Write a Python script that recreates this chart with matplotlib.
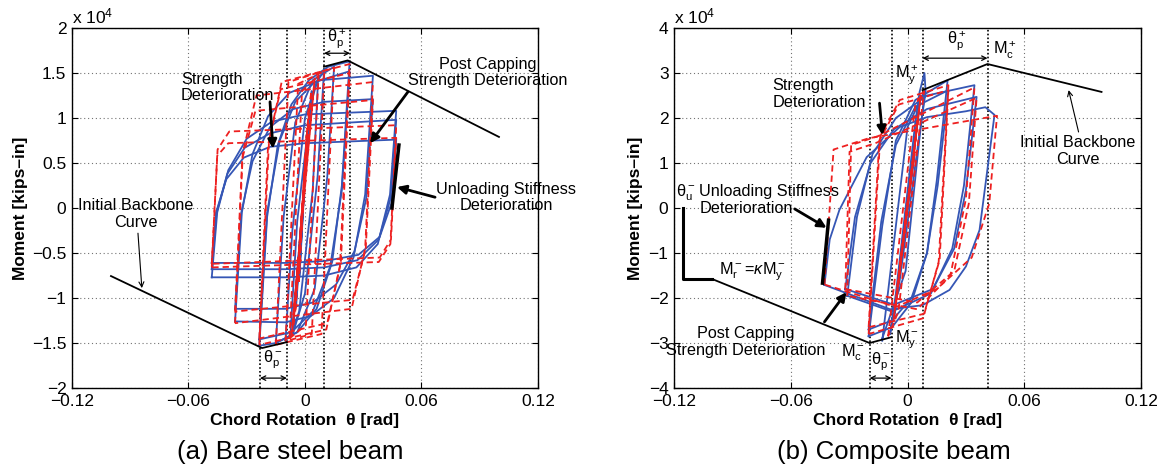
import matplotlib.pyplot as plt

# ---------------- data (rotation in rad, moment in 1e4 kip-in) ----------------
XTICKS = [-0.12, -0.06, 0.0, 0.06, 0.12]
STEEL_YTICKS = [-2, -1.5, -1, -0.5, 0, 0.5, 1, 1.5, 2]
COMP_YTICKS = [-4, -3, -2, -1, 0, 1, 2, 3, 4]

# (a) bare steel beam - measured cycles (blue)
steel_test_theta = [
    [-0.0030, 0.0010, -0.0028],
    [-0.0048, 0.0022, -0.0045],
    [-0.0062, 0.0035, -0.0060],
    [-0.0075, -0.0040, 0.0030, 0.0068, 0.0040, -0.0030, -0.0075],
    [-0.0100, -0.0065, 0.0000, 0.0060, 0.0098, 0.0065, 0.0000, -0.0060, -0.0100],
    [-0.0150, -0.0110, -0.0050, 0.0040, 0.0150, 0.0115, 0.0050, -0.0040, -0.0150],
    [-0.0235, -0.0195, -0.0140, -0.0070, 0.0020, 0.0120, 0.0230, 0.0190, 0.0140, 0.0060, -0.0040, -0.0150, -0.0235],
    [-0.0235, -0.0195, -0.0130, -0.0050, 0.0050, 0.0230, 0.0190, 0.0130, 0.0040, -0.0070, -0.0235],
    [-0.0360, -0.0325, -0.0270, -0.0190, -0.0080, 0.0080, 0.0350, 0.0310, 0.0250, 0.0150, 0.0030, -0.0100, -0.0360],
    [-0.0360, -0.0328, -0.0270, -0.0180, -0.0060, 0.0100, 0.0350, 0.0315, 0.0255, 0.0160, 0.0040, -0.0100, -0.0360],
    [-0.0480, -0.0452, -0.0395, -0.0300, -0.0170, 0.0000, 0.0470, 0.0438, 0.0375, 0.0265, 0.0100, -0.0100, -0.0480],
    [-0.0480, -0.0455, -0.0400, -0.0310, -0.0180, 0.0000, 0.0470, 0.0440, 0.0380, 0.0270, 0.0100, -0.0100, -0.0480],
    [-0.0480, -0.0458, -0.0405, -0.0315, -0.0180, 0.0000, 0.0470, 0.0445, 0.0385, 0.0275, 0.0100, -0.0100, -0.0480],
]
steel_test_moment = [
    [-0.78, 0.76, -0.76],
    [-1.10, 1.08, -1.08],
    [-1.30, 1.30, -1.28],
    [-1.42, -0.15, 1.15, 1.45, 0.20, -1.15, -1.42],
    [-1.47, -0.25, 1.00, 1.40, 1.52, 0.35, -0.95, -1.38, -1.47],
    [-1.50, -0.10, 0.95, 1.42, 1.57, 0.35, -0.90, -1.38, -1.50],
    [-1.53, -0.10, 0.70, 1.15, 1.42, 1.57, 1.63, 0.25, -0.60, -1.12, -1.38, -1.50, -1.53],
    [-1.46, -0.05, 0.75, 1.18, 1.40, 1.52, 0.20, -0.65, -1.15, -1.38, -1.46],
    [-1.26, -0.05, 0.60, 1.02, 1.28, 1.42, 1.47, 0.15, -0.55, -1.00, -1.20, -1.27, -1.26],
    [-1.12, -0.05, 0.52, 0.90, 1.10, 1.18, 1.21, 0.10, -0.48, -0.85, -1.05, -1.12, -1.12],
    [-0.77, -0.05, 0.42, 0.77, 0.96, 1.04, 1.08, 0.15, -0.40, -0.66, -0.75, -0.77, -0.77],
    [-0.68, -0.05, 0.38, 0.67, 0.83, 0.92, 0.98, 0.10, -0.35, -0.58, -0.66, -0.68, -0.68],
    [-0.61, -0.05, 0.32, 0.56, 0.68, 0.72, 0.76, 0.05, -0.32, -0.52, -0.59, -0.61, -0.61],
]

# (a) bare steel beam - model cycles (red dashed)
steel_model_theta = [
    [-0.0032, 0.0008, -0.0032],
    [-0.0050, 0.0020, -0.0050],
    [-0.0060, 0.0032, -0.0060],
    [-0.0070, 0.0050, -0.0068],
    [-0.0080, -0.0015, 0.0070, 0.0005, -0.0080],
    [-0.0100, -0.0035, 0.0100, 0.0035, -0.0100],
    [-0.0150, -0.0085, 0.0150, 0.0085, -0.0150],
    [-0.0235, -0.0185, -0.0120, 0.0230, 0.0180, 0.0110, -0.0235],
    [-0.0235, -0.0190, -0.0125, 0.0230, 0.0185, 0.0115, -0.0235],
    [-0.0360, -0.0320, -0.0250, 0.0350, 0.0310, 0.0240, -0.0360],
    [-0.0360, -0.0323, -0.0255, 0.0350, 0.0313, 0.0245, -0.0360],
    [-0.0480, -0.0450, -0.0390, 0.0470, 0.0440, 0.0380, -0.0480],
    [-0.0480, -0.0452, -0.0395, 0.0470, 0.0443, 0.0385, -0.0480],
]
steel_model_moment = [
    [-0.82, 0.80, -0.82],
    [-1.15, 1.12, -1.15],
    [-1.30, 1.30, -1.30],
    [-1.42, 1.44, -1.42],
    [-1.45, 1.30, 1.47, -1.30, -1.45],
    [-1.48, 1.38, 1.52, -1.40, -1.48],
    [-1.52, 1.40, 1.56, -1.40, -1.52],
    [-1.52, 0.75, 1.40, 1.60, -0.65, -1.35, -1.52],
    [-1.45, 0.70, 1.32, 1.50, -0.60, -1.28, -1.45],
    [-1.28, 0.62, 1.25, 1.40, -0.45, -1.12, -1.28],
    [-1.15, 0.55, 1.08, 1.20, -0.45, -1.02, -1.15],
    [-0.66, 0.65, 0.85, 0.92, -0.40, -0.60, -0.66],
    [-0.62, 0.58, 0.72, 0.78, -0.35, -0.55, -0.62],
]

steel_bb_pos_theta = [0.0098, 0.0220, 0.0999]
steel_bb_pos_m = [1.57, 1.64, 0.79]
steel_bb_neg_theta = [-0.0999, -0.0221, -0.0093]
steel_bb_neg_m = [-0.756, -1.556, -1.49]
steel_marks = [-0.0232, -0.0093, 0.0098, 0.0232]
steel_unload_theta = [0.0484, 0.0448]
steel_unload_m = [0.70, 0.0]

# (b) composite beam - measured cycles (blue)
comp_test_theta = [
    [-0.0030, 0.0035, -0.0030],
    [-0.0050, 0.0050, -0.0050],
    [-0.0070, 0.0065, -0.0070],
    [-0.0090, -0.0060, 0.0040, 0.0062, 0.0087, 0.0093, 0.0060, -0.0040, -0.0090],
    [-0.0130, -0.0060, 0.0000, 0.0090, 0.0060, -0.0010, -0.0130],
    [-0.0200, -0.0130, -0.0060, 0.0040, 0.0206, 0.0150, 0.0100, 0.0020, -0.0080, -0.0200],
    [-0.0200, -0.0135, -0.0060, 0.0040, 0.0210, 0.0155, 0.0100, 0.0020, -0.0080, -0.0200],
    [-0.0310, -0.0260, -0.0180, -0.0060, 0.0100, 0.0344, 0.0290, 0.0230, 0.0120, -0.0080, -0.0310],
    [-0.0320, -0.0270, -0.0190, -0.0070, 0.0100, 0.0355, 0.0300, 0.0240, 0.0130, -0.0070, -0.0320],
    [-0.0427, -0.0400, -0.0350, -0.0210, -0.0040, 0.0100, 0.0300, 0.0400, 0.0447, 0.0370, 0.0300, 0.0216, 0.0077, -0.0090, -0.0427],
]
comp_test_moment = [
    [-1.00, 1.20, -1.00],
    [-1.70, 1.90, -1.70],
    [-2.45, 2.45, -2.45],
    [-2.80, -1.90, 1.90, 2.58, 3.00, 2.58, 1.60, -1.60, -2.80],
    [-2.95, -0.40, 1.80, 2.62, 1.50, -1.40, -2.90],
    [-2.85, -0.40, 1.50, 2.40, 2.84, 0.60, -1.00, -2.10, -2.65, -2.85],
    [-2.70, -0.30, 1.40, 2.25, 2.62, 0.50, -1.00, -2.00, -2.50, -2.70],
    [-1.95, -0.20, 1.20, 2.00, 2.50, 2.73, 0.50, -0.90, -1.90, -2.30, -1.95],
    [-1.80, -0.20, 1.00, 1.75, 2.20, 2.47, 0.40, -0.90, -1.80, -2.15, -1.80],
    [-1.71, -0.70, -0.04, 1.13, 1.80, 2.02, 2.15, 2.24, 2.07, -0.49, -1.30, -1.82, -2.16, -2.25, -1.71],
]

# (b) composite beam - model cycles (red dashed)
comp_model_theta = [
    [-0.0032, 0.0037, -0.0032],
    [-0.0052, 0.0052, -0.0052],
    [-0.0060, 0.0060, -0.0060],
    [-0.0072, 0.0068, -0.0072],
    [-0.0100, 0.0040, 0.0085, -0.0047, -0.0100],
    [-0.0200, -0.0140, -0.0040, 0.0210, 0.0160, 0.0080, -0.0200],
    [-0.0200, -0.0145, -0.0045, 0.0210, 0.0165, 0.0085, -0.0200],
    [-0.0310, -0.0290, -0.0150, 0.0344, 0.0300, 0.0220, 0.0050, -0.0310],
    [-0.0320, -0.0298, -0.0160, 0.0355, 0.0315, 0.0240, 0.0050, -0.0320],
    [-0.0427, -0.0380, -0.0200, 0.0460, 0.0420, 0.0330, 0.0150, -0.0060, -0.0427],
]
comp_model_moment = [
    [-1.05, 1.25, -1.05],
    [-1.75, 1.95, -1.75],
    [-2.15, 2.20, -2.15],
    [-2.50, 2.50, -2.50],
    [-2.85, 2.30, 2.60, -2.30, -2.85],
    [-2.80, 1.60, 2.40, 2.73, -1.20, -2.45, -2.80],
    [-2.65, 1.50, 2.30, 2.62, -1.15, -2.35, -2.65],
    [-1.95, 1.40, 1.60, 2.68, 0.20, -1.50, -2.25, -1.95],
    [-1.80, 1.25, 1.45, 2.45, 0.10, -1.40, -2.10, -1.80],
    [-1.70, 1.30, 1.55, 2.05, 0.10, -1.10, -1.80, -2.20, -1.70],
]

comp_bb_pos_theta = [0.0077, 0.0411, 0.0997]
comp_bb_pos_m = [2.62, 3.20, 2.58]
comp_bb_neg_theta = [-0.1003, -0.0195, -0.0082]
comp_bb_neg_m = [-1.58, -3.00, -2.87]
comp_resid_theta = [-0.1152, -0.1152, -0.1003]
comp_resid_m = [0.0, -1.58, -1.58]
comp_marks = [-0.0195, -0.0082, 0.0077, 0.0411]
comp_unload_theta = [-0.0406, -0.0437]
comp_unload_m = [-0.27, -1.67]

# ---------------- styling ----------------
plt.rcParams['font.family'] = ['Liberation Sans', 'DejaVu Sans']
plt.rcParams['mathtext.fontset'] = 'custom'
plt.rcParams['mathtext.rm'] = 'Liberation Sans'
plt.rcParams['mathtext.it'] = 'Liberation Sans:italic'

BLUE = '#3556b5'
RED = '#ee2020'
FS = 11.7       # annotations
TICK_FS = 12.5
LABEL_FS = 12.5


def fmt(v):
    return '{:g}'.format(v).replace('-', '\u2212')


def setup(ax, yticks, marks, ylabel_x):
    ax.set_xlim(XTICKS[0], XTICKS[-1])
    ax.set_ylim(yticks[0], yticks[-1])
    ax.set_xticks(XTICKS)
    ax.set_xticklabels([fmt(v) for v in XTICKS])
    ax.set_yticks(yticks)
    ax.set_yticklabels([fmt(v) for v in yticks])
    ax.grid(True, linestyle=(0, (1, 2.5)), color='0.45', linewidth=0.8)
    ax.set_axisbelow(True)
    ax.tick_params(direction='in', top=True, right=True, length=4, width=0.8,
                   labelsize=TICK_FS, pad=4)
    for th in marks:
        ax.axvline(th, color='k', linestyle=(0, (1, 1.3)), linewidth=1.2, zorder=1.5)
    ax.set_xlabel('Chord Rotation  \u03b8 [rad]', fontsize=LABEL_FS, fontweight='bold')
    ax.xaxis.set_label_coords(0.5, -0.07)
    ax.set_ylabel('Moment [kips\u2013in]', fontsize=LABEL_FS, fontweight='bold')
    ax.yaxis.set_label_coords(ylabel_x, 0.5)
    ax.text(0.0, 1.004, r'x 10$^4$', transform=ax.transAxes, fontsize=TICK_FS,
            ha='left', va='bottom')
    for s in ax.spines.values():
        s.set_linewidth(1.0)


def draw_cycles(ax, tt, tm, mt, mm):
    for th, m in zip(tt, tm):
        ax.plot(th, m, color=BLUE, linewidth=1.3, zorder=2)
    for th, m in zip(mt, mm):
        ax.plot(th, m, color=RED, linewidth=1.3, dashes=(3.5, 2.2), zorder=2.1)


def arrow(ax, start, end, thick=True):
    if thick:
        props = dict(arrowstyle='-|>', color='k', lw=2.0, mutation_scale=13,
                     shrinkA=0, shrinkB=0)
    else:
        props = dict(arrowstyle='->', color='k', lw=0.8, mutation_scale=9,
                     shrinkA=0, shrinkB=0)
    ax.annotate('', xy=end, xytext=start, arrowprops=props, zorder=5)


def span(ax, t0, t1, m):
    ax.annotate('', xy=(t1, m), xytext=(t0, m), zorder=5,
                arrowprops=dict(arrowstyle='<->', color='k', lw=0.9,
                                mutation_scale=8, shrinkA=0, shrinkB=0))


fig = plt.figure(figsize=(11.68, 4.71), dpi=100)
ax1 = fig.add_axes([0.0616, 0.1762, 0.3990, 0.7643])
ax2 = fig.add_axes([0.5771, 0.1762, 0.3998, 0.7643])

# ---- (a) bare steel beam ----
setup(ax1, STEEL_YTICKS, steel_marks, -0.094)
draw_cycles(ax1, steel_test_theta, steel_test_moment, steel_model_theta, steel_model_moment)
ax1.plot(steel_bb_pos_theta, steel_bb_pos_m, color='k', lw=1.3, zorder=4)
ax1.plot(steel_bb_neg_theta, steel_bb_neg_m, color='k', lw=1.3, zorder=4)
ax1.plot(steel_unload_theta, steel_unload_m, color='k', lw=2.5, zorder=4)

ax1.text(-0.0639, 1.34, 'Strength\nDeterioration', fontsize=FS, ha='left', va='center',
         linespacing=1.15)
arrow(ax1, (-0.0180, 1.18), (-0.0165, 0.66))
ax1.text(0.0942, 1.505, 'Post Capping\nStrength Deterioration', fontsize=FS,
         ha='center', va='center', linespacing=1.15)
arrow(ax1, (0.0530, 1.29), (0.0335, 0.72))
ax1.text(0.1035, 0.117, 'Unloading Stiffness\nDeterioration', fontsize=FS,
         ha='center', va='center', linespacing=1.15)
arrow(ax1, (0.0670, 0.12), (0.0474, 0.233))
ax1.text(-0.0870, -0.067, 'Initial Backbone\nCurve', fontsize=FS, ha='center',
         va='center', linespacing=1.15)
arrow(ax1, (-0.0860, -0.28), (-0.0840, -0.89), thick=False)
ax1.text(0.0165, 1.88, r'$\mathrm{\theta}^+_\mathrm{p}$', fontsize=FS, ha='center', va='center')
span(ax1, steel_marks[2], steel_marks[3], 1.72)
ax1.text(-0.0165, -1.69, r'$\mathrm{\theta}^-_\mathrm{p}$', fontsize=FS, ha='center', va='center')
span(ax1, steel_marks[0], steel_marks[1], -1.89)

# ---- (b) composite beam ----
setup(ax2, COMP_YTICKS, comp_marks, -0.066)
draw_cycles(ax2, comp_test_theta, comp_test_moment, comp_model_theta, comp_model_moment)
ax2.plot(comp_bb_pos_theta, comp_bb_pos_m, color='k', lw=1.3, zorder=4)
ax2.plot(comp_bb_neg_theta, comp_bb_neg_m, color='k', lw=1.3, zorder=4)
ax2.plot(comp_resid_theta, comp_resid_m, color='k', lw=2.2, zorder=4)
ax2.plot(comp_unload_theta, comp_unload_m, color='k', lw=2.5, zorder=4)

ax2.text(-0.1190, 0.33, r'$\mathrm{\theta}^-_\mathrm{u}$', fontsize=FS, ha='left', va='center')
ax2.text(-0.1070, 0.18, 'Unloading Stiffness\nDeterioration', fontsize=FS, ha='left',
         va='center', linespacing=1.15)
arrow(ax2, (-0.0580, -0.02), (-0.0416, -0.44))
ax2.text(-0.0694, 2.53, 'Strength\nDeterioration', fontsize=FS, ha='left', va='center',
         linespacing=1.15)
arrow(ax2, (-0.0144, 2.33), (-0.0129, 1.62))
ax2.text(-0.0005, 2.96, r'$\mathrm{M}^+_\mathrm{y}$', fontsize=FS, ha='center', va='center')
ax2.text(0.0499, 3.51, r'$\mathrm{M}^+_\mathrm{c}$', fontsize=FS, ha='center', va='center')
ax2.text(0.0252, 3.73, r'$\mathrm{\theta}^+_\mathrm{p}$', fontsize=FS, ha='center', va='center')
span(ax2, comp_marks[2], comp_marks[3], 3.33)
ax2.text(0.0874, 1.26, 'Initial Backbone\nCurve', fontsize=FS, ha='center',
         va='center', linespacing=1.15)
arrow(ax2, (0.0879, 1.69), (0.0828, 2.62), thick=False)
ax2.text(-0.0797, -1.42, r'$\mathrm{M}^-_\mathrm{r}\!=\!\kappa\mathrm{M}^-_\mathrm{y}$', fontsize=FS,
         ha='center', va='center')
ax2.text(-0.0830, -2.97, 'Post Capping\nStrength Deterioration', fontsize=FS,
         ha='center', va='center', linespacing=1.15)
arrow(ax2, (-0.0427, -2.53), (-0.0314, -1.87))
ax2.text(-0.0283, -3.22, r'$\mathrm{M}^-_\mathrm{c}$', fontsize=FS, ha='center', va='center')
ax2.text(-0.0139, -3.42, r'$\mathrm{\theta}^-_\mathrm{p}$', fontsize=FS, ha='center', va='center')
span(ax2, comp_marks[0], comp_marks[1], -3.78)
ax2.text(-0.0005, -2.93, r'$\mathrm{M}^-_\mathrm{y}$', fontsize=FS, ha='center', va='center')

fig.text(0.2487, 0.040, '(a) Bare steel beam', fontsize=18.5, ha='center', va='center')
fig.text(0.7654, 0.040, '(b) Composite beam', fontsize=18.5, ha='center', va='center')

fig.savefig('out.png', dpi=100)
